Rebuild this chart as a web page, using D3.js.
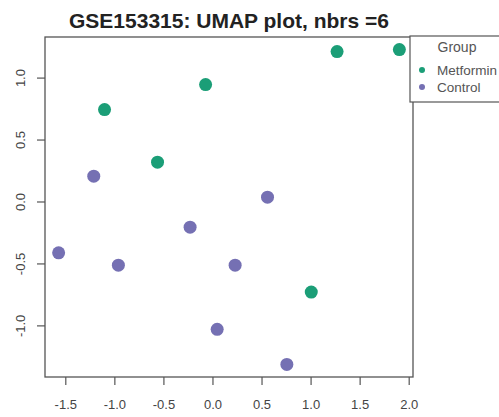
<!DOCTYPE html>
<html>
<head>
<meta charset="utf-8">
<script src="https://cdn.jsdelivr.net/npm/d3@7"></script>
<style>
  html, body { margin: 0; padding: 0; background: #fff; }
  svg { display: block; font-family: "Liberation Sans", Arial, sans-serif; }
</style>
</head>
<body>
<div id="chart"></div>
<script>
// UMAP coordinates
const metforminX = [1.27, 1.905, -0.07, -1.10, -0.56, 1.007];
const metforminY = [1.21, 1.226, 0.944, 0.742, 0.317, -0.731];
const controlX = [-1.21, 0.561, -0.228, -1.568, -0.959, 0.231, 0.048, 0.758];
const controlY = [0.204, 0.035, -0.207, -0.414, -0.514, -0.514, -1.032, -1.315];
const groups = ['Metformin', 'Control'];
const xTicks = [-1.5, -1.0, -0.5, 0.0, 0.5, 1.0, 1.5, 2.0];
const xTickLabels = ['-1.5', '-1.0', '-0.5', '0.0', '0.5', '1.0', '1.5', '2.0'];
const yTicks = [-1.0, -0.5, 0.0, 0.5, 1.0];
const yTickLabels = ['-1.0', '-0.5', '0.0', '0.5', '1.0'];

const W = 499, H = 417;
const m = { l: 45, r: 86, t: 37, b: 40 };
const colour = d3.scaleOrdinal().domain(groups).range(['#1b9e77', '#7570b3']);

const pts = [
  ...metforminX.map((x, i) => ({ x, y: metforminY[i], g: 'Metformin' })),
  ...controlX.map((x, i) => ({ x, y: controlY[i], g: 'Control' }))
];

// R style: 4% padding around the data range
const pad = (ext) => { const d = (ext[1] - ext[0]) * 0.04; return [ext[0] - d, ext[1] + d]; };
const x = d3.scaleLinear().domain(pad(d3.extent(pts, d => d.x))).range([m.l, W - m.r]);
const y = d3.scaleLinear().domain(pad(d3.extent(pts, d => d.y))).range([H - m.b, m.t]);

const svg = d3.select('#chart').append('svg').attr('width', W).attr('height', H);
svg.append('rect').attr('width', W).attr('height', H).attr('fill', '#fff');

svg.append('text').attr('x', (m.l + W - m.r) / 2).attr('y', 28)
  .attr('text-anchor', 'middle').attr('font-size', 21).attr('font-weight', 'bold').attr('fill', '#222')
  .text('GSE153315: UMAP plot, nbrs =6');

// axes
const xAxis = svg.append('g').attr('transform', `translate(0,${H - m.b})`)
  .call(d3.axisBottom(x).tickValues(xTicks).tickSize(8).tickPadding(15).tickFormat((d, i) => xTickLabels[i]));
const yAxis = svg.append('g').attr('transform', `translate(${m.l},0)`)
  .call(d3.axisLeft(y).tickValues(yTicks).tickSize(8).tickFormat((d, i) => yTickLabels[i]));
[xAxis, yAxis].forEach(a => {
  a.select('.domain').remove();
  a.selectAll('line').attr('stroke', '#555').attr('stroke-width', 1.2);
  a.selectAll('text').attr('font-size', 13).attr('fill', '#444').attr('font-family', '"Liberation Sans", Arial, sans-serif');
});
yAxis.selectAll('text').attr('text-anchor', 'middle').attr('x', null).attr('dy', null)
  .attr('transform', 'translate(-20,0) rotate(-90)');

svg.append('rect').attr('x', m.l).attr('y', m.t)
  .attr('width', W - m.r - m.l).attr('height', H - m.b - m.t)
  .attr('fill', 'none').attr('stroke', '#555').attr('stroke-width', 1.3);

svg.append('g').selectAll('circle').data(pts).join('circle')
  .attr('cx', d => x(d.x)).attr('cy', d => y(d.y)).attr('r', 6.5)
  .attr('fill', d => colour(d.g));

// legend box runs off the right edge like the original
const lg = svg.append('g').attr('transform', 'translate(410,36)');
lg.append('rect').attr('width', 110).attr('height', 66).attr('fill', '#fff').attr('stroke', '#555').attr('stroke-width', 1.2);
lg.append('text').attr('x', 47).attr('y', 16).attr('text-anchor', 'middle').attr('font-size', 14).attr('fill', '#555').text('Group');
const items = lg.selectAll('g.item').data(groups).join('g').attr('class', 'item')
  .attr('transform', (d, i) => `translate(0,${34 + i * 17})`);
items.append('circle').attr('cx', 12).attr('cy', 0).attr('r', 3).attr('fill', d => colour(d));
items.append('text').attr('x', 27).attr('y', 5).attr('font-size', 13.5).attr('fill', '#555').text(d => d);
</script>
</body>
</html>
